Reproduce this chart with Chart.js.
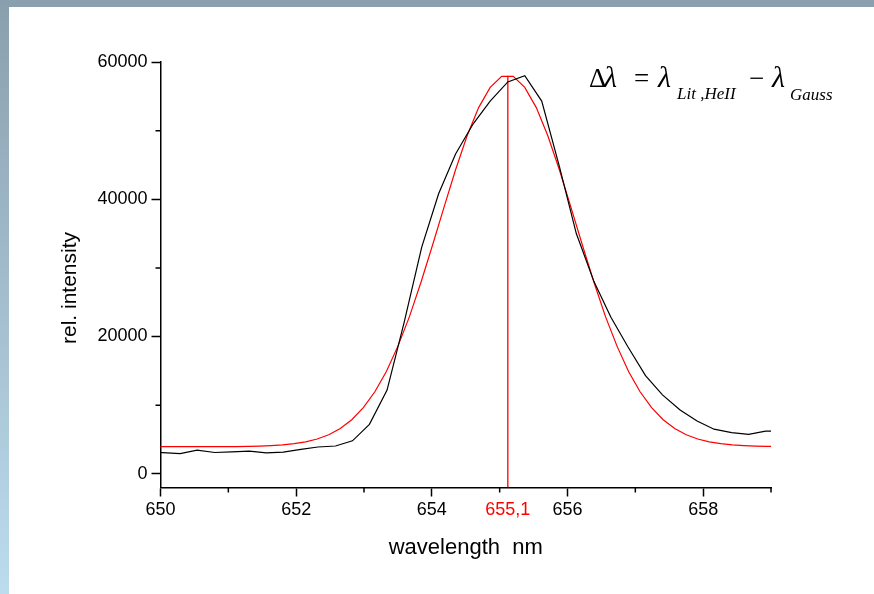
<!DOCTYPE html>
<html>
<head>
<meta charset="utf-8">
<script src="https://cdn.jsdelivr.net/npm/chart.js@4.4.1/dist/chart.umd.min.js"></script>
<style>
  html, body { margin: 0; padding: 0; background: #fff; }
  #wrap { position: relative; width: 874px; height: 594px; overflow: hidden; }
  #topbar { position: absolute; left: 0; top: 0; width: 874px; height: 7px; background: #8aa0ae; }
  #leftbar { position: absolute; left: 0; top: 0; width: 9px; height: 594px;
    background: linear-gradient(to bottom, #8a9fad, #bcdcee); }
  #chart { position: absolute; left: 0; top: 0; }
</style>
</head>
<body>
<div id="wrap">
  <div id="topbar"></div>
  <div id="leftbar"></div>
  <canvas id="chart" width="874" height="594"></canvas>
</div>
<script>
// measured spectrum (black)
const measuredX = [649.78, 650.03, 650.29, 650.54, 650.80, 651.05, 651.31, 651.56, 651.81, 652.07,
  652.32, 652.58, 652.83, 653.08, 653.34, 653.59, 653.85, 654.10, 654.35, 654.61,
  654.86, 655.12, 655.37, 655.62, 655.88, 656.13, 656.39, 656.64, 656.89, 657.15,
  657.40, 657.66, 657.91, 658.16, 658.42, 658.67, 658.92, 659.18];
const measuredY = [3100, 3070, 2950, 3450, 3100, 3200, 3300, 3050, 3150, 3550,
  3900, 4050, 4800, 7200, 12200, 22000, 33000, 40800, 46600, 51000,
  54300, 57100, 58000, 54300, 44800, 35000, 28000, 22800, 18500, 14300,
  11500, 9300, 7700, 6500, 6000, 5750, 6200, 6200];

// gauss fit (red)
const fitX = [649.93, 650.10, 650.27, 650.44, 650.61, 650.78, 650.95, 651.12, 651.29, 651.46,
  651.63, 651.80, 651.97, 652.14, 652.31, 652.48, 652.65, 652.82, 652.99, 653.16,
  653.33, 653.50, 653.67, 653.84, 654.01, 654.18, 654.35, 654.52, 654.69, 654.86,
  655.03, 655.20, 655.37, 655.54, 655.71, 655.88, 656.05, 656.22, 656.39, 656.56,
  656.73, 656.90, 657.07, 657.24, 657.41, 657.58, 657.75, 657.92, 658.09, 658.26,
  658.43, 658.60, 658.77, 658.94, 659.11];
const fitY = [3950, 3950, 3950, 3950, 3950, 3955, 3960, 3970, 3990, 4030,
  4100, 4200, 4380, 4650, 5060, 5680, 6600, 7880, 9650, 11950,
  14900, 18600, 22900, 27900, 33300, 38850, 44300, 49250, 53350, 56300,
  57900, 57900, 56300, 53350, 49250, 44300, 38850, 33300, 27900, 22900,
  18600, 14900, 11950, 9650, 7880, 6600, 5680, 5060, 4650, 4380,
  4200, 4100, 4030, 3990, 3970];

// line centre marker
const centerX = 655.12;
const centerLabel = "655,1";
const centerTop = 58000;

const xTicks = [650, 651, 652, 653, 654, 655, 656, 657, 658, 659];
const yTicks = [0, 10000, 20000, 30000, 40000, 50000, 60000];

const FONT = "'Liberation Sans', Arial, sans-serif";
const SERIF = "'Liberation Serif', 'Times New Roman', serif";
const toPoints = (xs, ys) => xs.map((x, i) => ({ x, y: ys[i] }));

// short minor ticks, the y title (sits a bit below centre) and the formula
const extras = {
  id: "extras",
  afterDraw(chart) {
    const { ctx, chartArea, scales } = chart;
    ctx.save();
    ctx.strokeStyle = "#000";
    ctx.lineWidth = 1.5;
    ctx.beginPath();
    xTicks.filter(v => v % 2 === 1).forEach(v => {
      const px = scales.x.getPixelForValue(v);
      ctx.moveTo(px, chartArea.bottom);
      ctx.lineTo(px, chartArea.bottom + 5);
    });
    yTicks.filter(v => v % 20000 !== 0).forEach(v => {
      const py = scales.y.getPixelForValue(v);
      ctx.moveTo(chartArea.left - 5, py);
      ctx.lineTo(chartArea.left, py);
    });
    ctx.stroke();

    ctx.fillStyle = "#000";
    ctx.save();
    ctx.translate(70, 288);
    ctx.rotate(-Math.PI / 2);
    ctx.font = `21px ${FONT}`;
    ctx.textAlign = "center";
    ctx.textBaseline = "middle";
    ctx.fillText("rel. intensity", 0, 0);
    ctx.restore();

    ctx.textBaseline = "alphabetic";
    const parts = [
      ["Δ", "27px", "", 589, 87],
      ["λ", "30px", "italic ", 604, 87],
      ["=", "27px", "", 634, 87],
      ["λ", "30px", "italic ", 658, 87],
      ["Lit ,HeII", "17px", "italic ", 677, 99],
      ["−", "27px", "", 749, 87],
      ["λ", "30px", "italic ", 772, 87],
      ["Gauss", "17px", "italic ", 790, 100]
    ];
    parts.forEach(([t, size, style, x, y]) => {
      ctx.font = `${style}${size} ${SERIF}`;
      ctx.fillText(t, x, y);
    });
    ctx.restore();
  }
};

new Chart(document.getElementById("chart"), {
  type: "line",
  data: {
    datasets: [
      {
        label: "measured",
        data: toPoints(measuredX, measuredY),
        borderColor: "#000",
        borderWidth: 1.2,
        pointRadius: 0,
        tension: 0
      },
      {
        label: "gauss",
        data: toPoints(fitX, fitY),
        borderColor: "#ff0000",
        borderWidth: 1.2,
        pointRadius: 0,
        tension: 0
      },
      {
        label: "centre",
        data: [{ x: centerX, y: -2000 }, { x: centerX, y: centerTop }],
        borderColor: "#ff2020",
        borderWidth: 1.5,
        pointRadius: 0
      }
    ]
  },
  options: {
    responsive: false,
    animation: false,
    events: [],
    layout: { padding: { left: 0, right: 103, top: 62, bottom: 0 } },
    plugins: { legend: { display: false }, tooltip: { enabled: false } },
    scales: {
      x: {
        type: "linear",
        min: 650,
        max: 659,
        afterBuildTicks: axis => {
          axis.ticks = xTicks.concat([centerX]).sort((a, b) => a - b).map(value => ({ value }));
        },
        afterFit: axis => { axis.height = 106.5; },
        grid: {
          drawOnChartArea: false,
          tickLength: 9,
          tickWidth: 1.5,
          tickColor: c => (c.tick && c.tick.value % 2 === 0 ? "#000" : "rgba(0,0,0,0)")
        },
        border: { color: "#000", width: 1.5 },
        ticks: {
          autoSkip: false,
          maxRotation: 0,
          padding: 3,
          font: { family: FONT, size: 18 },
          color: c => (c.tick.value === centerX ? "#ff0000" : "#000"),
          callback: v => (v === centerX ? centerLabel : v % 2 === 0 ? String(v) : "")
        },
        title: {
          display: true,
          text: "wavelength  nm",
          color: "#000",
          font: { family: FONT, size: 22 },
          padding: { top: 0, bottom: 33 }
        }
      },
      y: {
        type: "linear",
        min: -2000,
        max: 60000,
        afterBuildTicks: axis => { axis.ticks = yTicks.map(value => ({ value })); },
        afterFit: axis => { axis.width = 160.5; },
        grid: {
          drawOnChartArea: false,
          tickLength: 9,
          tickWidth: 1.5,
          tickColor: c => (c.tick && c.tick.value % 20000 === 0 ? "#000" : "rgba(0,0,0,0)")
        },
        border: { color: "#000", width: 1.5 },
        ticks: {
          padding: 4,
          font: { family: FONT, size: 18 },
          color: "#000",
          callback: v => (v % 20000 === 0 ? String(v) : "")
        },
        title: { display: false }
      }
    }
  },
  plugins: [extras]
});
</script>
</body>
</html>
